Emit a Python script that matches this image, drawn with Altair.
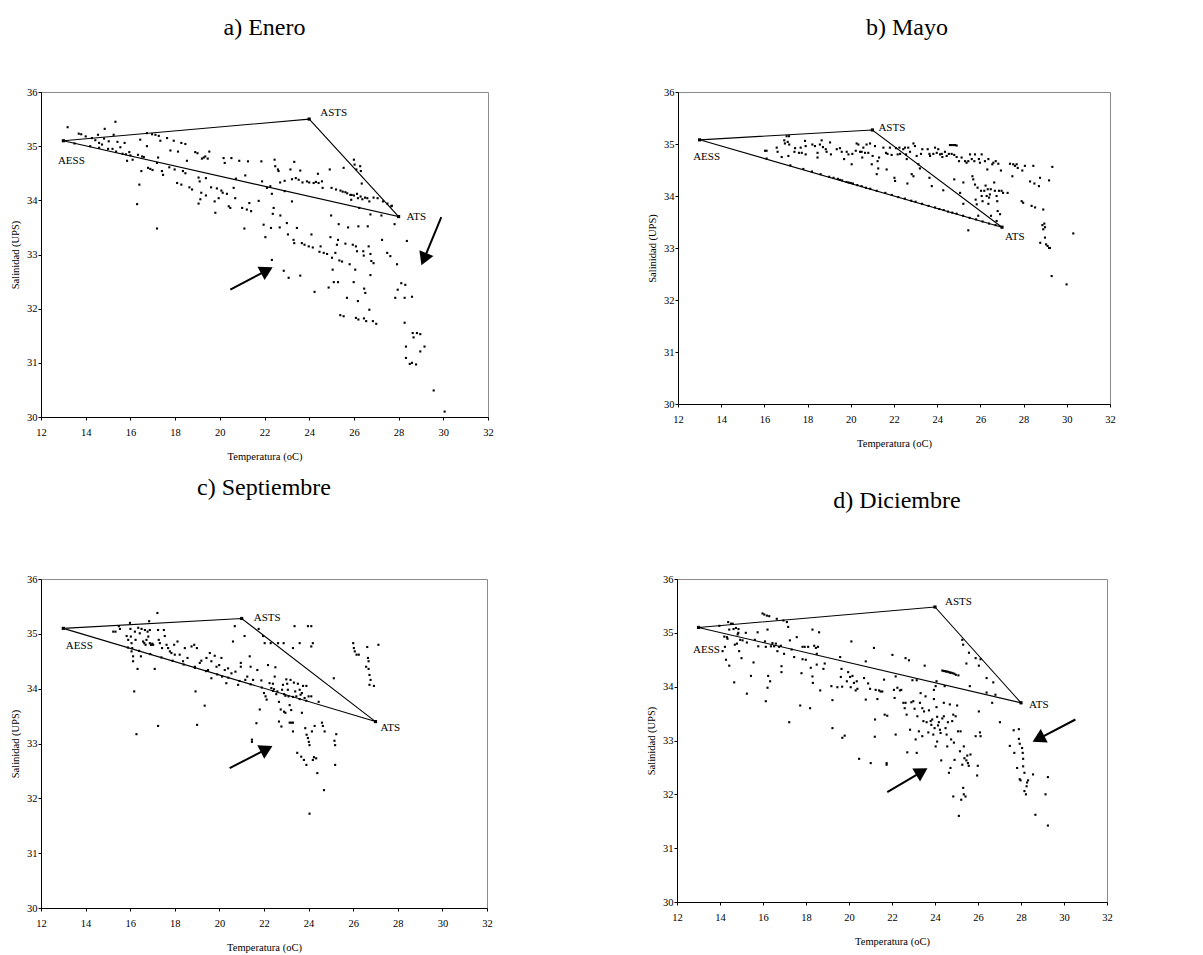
import math
import altair as alt
import pandas as pd

TEMP_TICKS = [12, 14, 16, 18, 20, 22, 24, 26, 28, 30, 32]
SAL_TICKS = [30, 31, 32, 33, 34, 35, 36]
VERTEX_NAMES = ["AESS", "ASTS", "ATS"]

# ---------------- a) Enero ----------------
ENERO_PTS = [
    (13.19, 35.35), (13.69, 35.23), (13.80, 35.22), (14.00, 35.18), (14.28, 35.15), (14.43, 35.11),
    (14.55, 35.21), (14.60, 35.06), (14.73, 35.03), (14.82, 35.14), (14.85, 35.32), (15.03, 35.09),
    (15.00, 34.95), (15.25, 35.21), (15.33, 35.45), (15.42, 35.08), (15.36, 34.90), (15.55, 34.98),
    (15.74, 35.06), (15.65, 34.86), (15.85, 34.73), (15.95, 34.89), (16.10, 34.75), (16.34, 34.84),
    (16.44, 35.12), (16.52, 34.81), (16.49, 34.54), (16.40, 34.29), (16.30, 33.93), (16.74, 35.24),
    (16.97, 35.22), (17.12, 35.21), (17.27, 35.19), (17.34, 35.10), (16.74, 35.00), (16.79, 34.60),
    (16.89, 34.58), (16.99, 34.56), (17.19, 34.69), (17.24, 34.79), (17.19, 33.48), (17.41, 34.54),
    (17.46, 34.47), (17.64, 35.15), (17.74, 34.61), (17.79, 34.92), (17.94, 35.10), (17.98, 34.57),
    (18.13, 34.90), (18.28, 35.06), (18.46, 35.04), (18.09, 34.32), (18.28, 34.29), (18.35, 34.54),
    (18.46, 34.50), (18.53, 34.73), (18.64, 34.24), (18.76, 34.20), (18.90, 34.89), (19.00, 34.87),
    (19.05, 34.42), (19.10, 34.35), (19.20, 34.77), (19.28, 34.79), (19.17, 34.14), (19.13, 34.02),
    (19.05, 33.94), (19.35, 34.81), (19.46, 34.77), (19.53, 34.90), (19.38, 34.41), (19.61, 34.24),
    (19.38, 34.09), (19.77, 33.98), (19.80, 33.77), (19.95, 34.04), (19.87, 34.22), (20.07, 34.18),
    (20.13, 34.14), (20.17, 34.78), (20.22, 34.69), (20.32, 34.12), (20.40, 33.89), (20.47, 33.86),
    (20.52, 34.78), (20.62, 34.23), (20.69, 34.04), (20.72, 34.40), (20.87, 34.73), (21.00, 33.86),
    (21.10, 33.48), (21.14, 34.46), (21.21, 33.83), (21.26, 34.72), (21.32, 33.95), (21.40, 33.80),
    (21.74, 33.99), (21.86, 34.72), (21.89, 34.35), (21.96, 33.55), (22.04, 33.32), (22.11, 34.23),
    (22.26, 34.26), (22.33, 34.12), (22.29, 33.49), (22.37, 33.75), (22.41, 33.86), (22.33, 32.90),
    (22.45, 34.75), (22.48, 34.63), (22.60, 34.57), (22.63, 34.54), (22.71, 33.72), (22.68, 33.50),
    (22.86, 32.70), (22.90, 34.17), (23.00, 33.58), (23.05, 33.37), (23.08, 32.57), (23.16, 34.57),
    (23.23, 34.39), (23.23, 33.98), (23.30, 33.27), (23.33, 33.21), (23.33, 34.71), (23.45, 33.49),
    (23.53, 34.38), (23.60, 34.55), (23.60, 32.61), (23.67, 33.21), (23.79, 33.18), (23.90, 34.35),
    (23.98, 33.15), (24.10, 33.37), (24.16, 33.13), (24.20, 34.32), (24.24, 32.31), (24.39, 34.49),
    (24.42, 34.32), (24.46, 33.05), (24.51, 33.15), (24.57, 34.35), (24.60, 34.23), (24.65, 33.03),
    (24.80, 33.01), (24.87, 32.39), (24.92, 34.57), (25.00, 34.23), (24.98, 33.72), (24.95, 33.32),
    (25.02, 32.94), (25.05, 32.72), (25.10, 32.49), (25.17, 33.03), (25.24, 33.18), (25.29, 33.27),
    (25.32, 33.56), (25.29, 32.49), (25.35, 32.89), (25.47, 32.87), (25.39, 31.88), (25.54, 31.86),
    (25.54, 34.60), (25.62, 34.15), (25.62, 33.20), (25.69, 32.20), (25.74, 33.50), (25.81, 32.82),
    (25.84, 34.10), (25.88, 34.01), (25.95, 33.18), (25.99, 32.49), (26.00, 34.75), (26.03, 34.66),
    (26.06, 32.72), (26.09, 33.15), (26.11, 34.57), (26.14, 33.06), (26.14, 34.12), (26.18, 34.04),
    (26.09, 31.83), (26.20, 31.80), (26.18, 32.14), (26.20, 33.52), (26.24, 33.86), (26.28, 34.63),
    (26.31, 34.54), (26.35, 34.31), (26.38, 34.02), (26.42, 33.06), (26.44, 32.98), (26.46, 32.37),
    (26.45, 31.82), (26.55, 31.77), (26.51, 32.29), (26.62, 33.52), (26.66, 33.15), (26.69, 31.98),
    (26.74, 33.01), (26.78, 32.88), (26.74, 33.74), (26.74, 32.62), (26.69, 33.98), (26.88, 34.05),
    (26.88, 32.84), (26.85, 31.77), (27.00, 31.72), (27.06, 34.04), (27.23, 33.72), (27.26, 33.27),
    (27.49, 33.03), (27.63, 32.97), (27.67, 33.89), (27.82, 33.56), (27.85, 32.20), (27.93, 32.82),
    (27.96, 32.35), (28.12, 32.47), (28.27, 31.74), (28.30, 32.44), (28.27, 32.20), (28.33, 31.30),
    (28.37, 33.25), (28.33, 31.09), (28.50, 30.98), (28.60, 32.22), (28.63, 31.55), (28.67, 31.47),
    (28.60, 31.00), (28.78, 30.97), (28.82, 31.55), (28.97, 31.21), (28.97, 31.53), (29.16, 31.30),
    (29.57, 30.49), (30.06, 30.10),
    (25.20, 34.20), (25.40, 34.18), (25.50, 34.16), (25.70, 34.13), (25.90, 34.10), (26.00, 34.09),
    (26.30, 34.07), (26.50, 34.05), (26.60, 34.04), (27.30, 33.98), (27.50, 33.94), (27.70, 33.90),
    (22.70, 34.33), (22.90, 34.36), (23.40, 34.41), (23.70, 34.33), (24.00, 34.33), (24.30, 34.34),
    (13.50, 35.05), (14.20, 35.00), (14.60, 34.97), (15.20, 34.95), (15.80, 34.85), (16.00, 34.83),
    (16.60, 34.80),
]
ENERO_TRI_T = [13, 24, 28]
ENERO_TRI_S = [35.1, 35.5, 33.7]
ENERO_ARROWS = [(20.47, 32.35, 22.02, 32.69), (29.91, 33.69, 29.17, 32.95)]

# ---------------- b) Mayo ----------------
MAYO_PTS = [
    (16.03, 34.87), (16.10, 34.87), (16.57, 34.93), (16.61, 34.85), (16.80, 34.75), (16.92, 35.07),
    (16.95, 35.01), (17.03, 35.15), (17.08, 35.04), (17.14, 35.15), (17.15, 34.99), (17.11, 34.77),
    (17.39, 34.85), (17.42, 34.92), (17.60, 34.83), (17.68, 34.93), (17.73, 34.83), (17.88, 35.06),
    (17.91, 34.96), (17.91, 34.80), (18.22, 34.99), (18.34, 34.96), (18.46, 34.83), (18.46, 34.74),
    (18.57, 34.99), (18.65, 35.07), (18.71, 34.94), (18.84, 34.90), (18.88, 34.85), (19.04, 35.03),
    (19.08, 34.80), (19.35, 34.90), (19.50, 34.92), (19.58, 34.85), (19.69, 34.71), (19.81, 34.85),
    (19.89, 34.80), (20.04, 34.61), (20.07, 34.81), (20.23, 34.87), (20.27, 35.01), (20.35, 34.99),
    (20.43, 34.85), (20.50, 34.85), (20.53, 34.74), (20.58, 34.93), (20.66, 34.83), (20.73, 34.99),
    (20.81, 34.83), (20.89, 35.01), (20.97, 34.61), (21.01, 34.77), (21.12, 34.96), (21.20, 34.42),
    (21.24, 34.67), (21.31, 34.74), (21.27, 34.53), (21.51, 34.93), (21.63, 34.83), (21.66, 34.51),
    (21.70, 34.81), (21.81, 34.93), (21.89, 34.79), (22.02, 34.35), (22.05, 34.29), (22.09, 34.92),
    (22.17, 34.80), (22.25, 34.93), (22.28, 34.81), (22.43, 34.90), (22.51, 34.93), (22.56, 34.80),
    (22.59, 34.71), (22.62, 34.24), (22.66, 34.93), (22.74, 34.85), (22.82, 34.42), (22.90, 34.38),
    (22.90, 35.01), (22.97, 34.96), (23.05, 34.77), (23.13, 34.61), (23.20, 34.53), (23.25, 34.81),
    (23.31, 34.90), (23.56, 34.90), (23.64, 34.81), (23.67, 34.77), (23.64, 34.35), (23.75, 34.19),
    (23.82, 34.81), (23.90, 34.93), (23.98, 34.83), (24.05, 34.90), (24.13, 34.80), (24.21, 34.81),
    (24.24, 34.75), (24.28, 34.11), (24.36, 34.85), (24.44, 34.77), (24.54, 34.81), (24.59, 34.98),
    (24.67, 34.98), (24.75, 34.98), (24.83, 34.98), (24.90, 34.97), (24.67, 34.81), (24.79, 34.79),
    (24.79, 34.32), (24.90, 34.75), (25.01, 34.67), (25.06, 34.06), (25.13, 34.74), (25.21, 34.26),
    (25.21, 33.85), (25.29, 34.67), (25.36, 34.64), (25.44, 34.67), (25.44, 33.34), (25.52, 34.80),
    (25.60, 34.71), (25.63, 34.38), (25.67, 34.32), (25.72, 34.67), (25.75, 34.80), (25.75, 34.22),
    (25.78, 33.93), (25.83, 33.84), (25.87, 34.16), (25.90, 33.62), (25.93, 34.71), (25.98, 34.64),
    (26.03, 34.10), (26.06, 34.80), (26.06, 34.00), (26.10, 33.90), (26.18, 34.10), (26.21, 34.67),
    (26.24, 34.20), (26.29, 34.00), (26.32, 34.51), (26.34, 34.13), (26.37, 34.71), (26.37, 33.85),
    (26.40, 33.97), (26.44, 34.03), (26.48, 34.13), (26.49, 33.62), (26.55, 34.61), (26.60, 34.64),
    (26.64, 34.26), (26.67, 34.10), (26.71, 34.67), (26.75, 34.00), (26.75, 33.52), (26.78, 33.90),
    (26.80, 33.71), (26.83, 34.62), (26.86, 34.10), (26.91, 33.65), (26.95, 34.49), (26.98, 34.10),
    (27.05, 34.06), (27.26, 34.06), (27.37, 34.62), (27.48, 34.38), (27.52, 34.61), (27.60, 34.58),
    (27.68, 34.61), (27.73, 34.54), (27.91, 33.90), (27.94, 34.49), (27.98, 33.87), (28.06, 34.58),
    (28.30, 34.28), (28.45, 34.58), (28.50, 34.24), (28.37, 33.81), (28.53, 33.78), (28.71, 34.19),
    (28.76, 34.35), (28.77, 33.10), (28.91, 33.74), (28.87, 33.44), (28.96, 33.47), (28.99, 33.40),
    (28.91, 33.36), (28.99, 33.20), (29.04, 33.07), (29.11, 33.04), (29.18, 33.00), (29.22, 33.00),
    (29.18, 34.30), (29.30, 32.46), (29.33, 34.56), (29.99, 32.30), (30.30, 33.28),
    (16.1, 34.72), (17.2, 34.59), (17.8, 34.52), (18.2, 34.47), (18.6, 34.42), (19.0, 34.37),
    (19.2, 34.35), (19.4, 34.33), (19.5, 34.31), (19.6, 34.30), (19.8, 34.27), (19.9, 34.26),
    (20.0, 34.25), (20.1, 34.24), (20.3, 34.21), (20.5, 34.19), (20.7, 34.16), (20.9, 34.14),
    (21.2, 34.10), (21.6, 34.06), (21.9, 34.02), (22.2, 33.98), (22.5, 33.95), (22.8, 33.91),
    (23.0, 33.89), (23.3, 33.85), (23.6, 33.81), (23.9, 33.78), (24.1, 33.75), (24.3, 33.73),
    (24.5, 33.70), (24.7, 33.68), (24.9, 33.66), (25.2, 33.62), (25.5, 33.58), (25.8, 33.55),
    (26.1, 33.51), (26.4, 33.47), (26.7, 33.44),
]
MAYO_TRI_T = [13, 21, 27]
MAYO_TRI_S = [35.08, 35.27, 33.4]
MAYO_ARROWS = []

# ---------------- c) Septiembre ----------------
SEPT_PTS = [
    (15.24, 35.04), (15.34, 35.04), (15.49, 35.14), (15.54, 35.09), (15.84, 34.96), (15.91, 34.89),
    (15.99, 35.20), (16.01, 35.09), (16.03, 34.95), (16.06, 34.83), (16.09, 34.74), (16.06, 34.68),
    (16.13, 34.59), (16.13, 34.50), (16.21, 35.04), (16.24, 34.89), (16.18, 33.95), (16.28, 33.17),
    (16.33, 34.36), (16.36, 35.11), (16.43, 35.01), (16.48, 34.59), (16.51, 35.09), (16.58, 34.86),
    (16.63, 34.83), (16.66, 35.07), (16.69, 34.80), (16.73, 34.89), (16.78, 35.04), (16.81, 34.95),
    (16.85, 35.23), (16.88, 34.83), (16.93, 34.80), (16.96, 34.80), (16.99, 34.82), (17.03, 34.80),
    (16.88, 35.07), (17.10, 34.36), (17.22, 35.38), (17.25, 33.32), (17.25, 35.07), (17.28, 34.89),
    (17.33, 34.83), (17.43, 34.74), (17.51, 35.07), (17.55, 34.96), (17.63, 34.80), (17.70, 34.74),
    (17.78, 34.68), (17.85, 34.65), (17.97, 34.80), (18.00, 34.62), (18.12, 34.86), (18.22, 34.62),
    (18.37, 34.50), (18.45, 34.74), (18.57, 34.56), (18.75, 34.77), (18.87, 34.80), (18.90, 34.40),
    (18.93, 33.95), (19.00, 33.34), (18.99, 34.74), (19.12, 34.47), (19.19, 34.51), (19.34, 33.69),
    (19.42, 34.56), (19.49, 34.34), (19.57, 34.65), (19.64, 34.19), (19.64, 34.50), (19.79, 34.60),
    (19.87, 34.40), (19.99, 34.43), (20.09, 34.56), (20.12, 34.22), (20.24, 34.34), (20.31, 34.10),
    (20.39, 34.37), (20.54, 34.28), (20.61, 34.86), (20.69, 35.14), (20.72, 34.31), (20.84, 34.07),
    (20.96, 34.47), (20.96, 34.40), (21.13, 34.96), (21.16, 34.16), (21.25, 34.22), (21.36, 34.59),
    (21.40, 34.40), (21.46, 33.07), (21.46, 33.03), (21.51, 34.16), (21.66, 33.37), (21.70, 34.34),
    (21.76, 35.09), (21.81, 33.62), (21.88, 34.15), (21.96, 34.96), (22.00, 33.92), (22.03, 34.83),
    (22.07, 33.86), (22.12, 33.80), (22.18, 34.43), (22.25, 34.10), (22.30, 34.83), (22.33, 34.01),
    (22.40, 34.09), (22.45, 33.99), (22.48, 34.22), (22.51, 34.39), (22.55, 33.90), (22.60, 33.95),
    (22.63, 34.83), (22.67, 33.76), (22.67, 33.40), (22.75, 33.62), (22.78, 33.31), (22.81, 33.98),
    (22.85, 34.07), (22.88, 34.83), (22.90, 33.58), (22.96, 33.56), (22.96, 33.87), (23.00, 34.17),
    (23.04, 34.09), (23.07, 33.98), (23.10, 33.86), (23.15, 33.70), (23.15, 33.38), (23.22, 33.38),
    (23.30, 33.38), (23.19, 34.16), (23.22, 33.61), (23.30, 33.22), (23.30, 34.74), (23.34, 34.11),
    (23.37, 35.14), (23.40, 33.95), (23.45, 33.86), (23.49, 32.83), (23.52, 34.09), (23.60, 34.83),
    (23.60, 33.98), (23.64, 33.89), (23.67, 32.76), (23.70, 33.56), (23.75, 34.05), (23.79, 32.70),
    (23.82, 33.83), (23.85, 33.28), (23.90, 32.61), (23.90, 34.05), (23.91, 33.16), (23.97, 33.10),
    (24.01, 33.03), (24.04, 32.97), (23.97, 35.14), (24.12, 35.14), (24.12, 33.86), (24.12, 34.77),
    (24.19, 34.83), (24.15, 33.22), (24.19, 32.70), (24.24, 32.75), (24.27, 33.32), (24.34, 32.73),
    (24.39, 32.46), (24.45, 33.76), (24.04, 31.72), (24.60, 33.38), (24.64, 33.32), (24.69, 32.15),
    (24.72, 33.22), (25.13, 34.19), (25.16, 33.05), (25.19, 32.97), (25.19, 32.61), (25.24, 33.17),
    (26.00, 34.83), (26.03, 34.74), (26.07, 34.68), (26.15, 34.62), (26.25, 34.62), (26.63, 34.76),
    (26.66, 34.56), (26.69, 34.50), (26.58, 34.40), (26.69, 34.36), (26.73, 34.25), (26.78, 34.16),
    (26.73, 34.07), (26.93, 34.05), (27.13, 34.80),
    (15.9, 34.75), (16.4, 34.69), (16.9, 34.63), (17.4, 34.57), (17.9, 34.51), (18.4, 34.44),
    (18.9, 34.38), (19.4, 34.32), (19.9, 34.26), (20.4, 34.20), (20.9, 34.14), (21.4, 34.08),
    (21.9, 34.02), (22.4, 33.96), (22.9, 33.90), (23.3, 33.85), (23.6, 33.81), (23.9, 33.78),
    (24.0, 33.86), (23.7, 33.92),
]
SEPT_TRI_T = [13, 21, 27]
SEPT_TRI_S = [35.1, 35.28, 33.4]
SEPT_ARROWS = [(20.46, 32.55, 22.03, 32.88)]

# ---------------- d) Diciembre ----------------
DIC_PTS = [
    (13.97, 35.13), (14.12, 34.66), (14.20, 34.93), (14.23, 34.74), (14.28, 34.50), (14.32, 34.92),
    (14.35, 34.89), (14.38, 35.20), (14.43, 34.39), (14.43, 35.06), (14.51, 35.17), (14.59, 35.17),
    (14.63, 35.07), (14.66, 34.08), (14.69, 34.78), (14.74, 35.09), (14.79, 34.80), (14.82, 34.97),
    (14.85, 35.00), (14.86, 35.07), (14.89, 34.66), (14.94, 34.87), (15.00, 34.53), (15.05, 34.86),
    (15.20, 35.00), (15.25, 34.82), (15.25, 33.87), (15.44, 34.20), (15.56, 34.45), (15.62, 34.87),
    (15.75, 35.01), (15.78, 34.75), (15.98, 35.36), (16.06, 35.34), (16.18, 35.32), (16.29, 35.31),
    (16.09, 34.84), (16.13, 34.74), (16.13, 33.73), (16.21, 35.06), (16.24, 34.20), (16.21, 33.98),
    (16.33, 34.10), (16.37, 34.75), (16.44, 34.81), (16.52, 34.75), (16.60, 34.80), (16.64, 35.26),
    (16.67, 34.66), (16.75, 34.74), (16.83, 34.76), (16.86, 34.38), (16.86, 34.27), (16.95, 35.23),
    (16.98, 34.61), (17.11, 35.20), (17.17, 35.11), (17.22, 33.34), (17.25, 34.86), (17.33, 34.69),
    (17.45, 34.55), (17.57, 34.92), (17.73, 33.65), (17.79, 34.25), (17.84, 34.74), (17.84, 34.51),
    (17.94, 34.74), (17.99, 34.50), (18.10, 34.74), (18.19, 33.60), (18.22, 34.35), (18.30, 35.06),
    (18.30, 34.19), (18.32, 34.07), (18.38, 34.76), (18.46, 34.72), (18.50, 34.61), (18.50, 34.41),
    (18.56, 34.74), (18.61, 35.01), (18.66, 33.93), (18.81, 34.33), (18.87, 34.43), (19.18, 34.01),
    (19.23, 33.75), (19.23, 33.23), (19.46, 33.99), (19.59, 34.55), (19.62, 34.18), (19.65, 34.33),
    (19.68, 34.00), (19.69, 33.05), (19.80, 33.09), (19.90, 34.10), (19.96, 34.27), (20.05, 34.18),
    (20.08, 33.99), (20.11, 34.84), (20.16, 34.20), (20.23, 34.07), (20.31, 33.93), (20.36, 34.10),
    (20.39, 33.96), (20.47, 32.66), (20.70, 34.16), (20.78, 34.47), (20.78, 33.76), (20.89, 34.06),
    (20.98, 33.96), (21.01, 32.58), (21.16, 34.72), (21.20, 33.07), (21.21, 33.39), (21.24, 33.94),
    (21.32, 33.77), (21.40, 33.93), (21.47, 33.91), (21.55, 33.91), (21.63, 34.13), (21.66, 33.48),
    (21.78, 33.46), (21.75, 32.58), (21.75, 32.55), (22.02, 34.59), (22.09, 33.94), (22.12, 33.79),
    (22.17, 34.19), (22.17, 33.11), (22.25, 33.98), (22.37, 33.93), (22.43, 33.94), (22.53, 33.70),
    (22.59, 33.60), (22.63, 34.53), (22.63, 33.70), (22.68, 33.48), (22.71, 32.78), (22.79, 34.49),
    (22.84, 33.20), (22.90, 33.71), (22.99, 33.73), (22.95, 34.12), (23.05, 33.59), (23.10, 33.02),
    (23.15, 32.77), (23.15, 34.12), (23.18, 33.45), (23.25, 33.17), (23.30, 33.70), (23.33, 33.88),
    (23.41, 33.60), (23.41, 33.08), (23.46, 33.36), (23.49, 33.54), (23.52, 34.39), (23.56, 33.82),
    (23.61, 33.34), (23.69, 33.15), (23.72, 33.56), (23.80, 33.36), (23.83, 33.29), (23.87, 33.39),
    (23.92, 33.11), (23.95, 33.94), (23.95, 33.77), (23.98, 33.23), (24.03, 32.89), (24.03, 34.01),
    (24.07, 34.10), (24.07, 33.62), (24.10, 33.44), (24.10, 32.98), (24.14, 33.28), (24.18, 33.34),
    (24.23, 33.20), (24.26, 33.14), (24.29, 32.63), (24.34, 33.41), (24.34, 34.30), (24.40, 34.29),
    (24.46, 34.29), (24.52, 34.28), (24.58, 34.28), (24.64, 34.27), (24.70, 34.26), (24.76, 34.26),
    (24.82, 34.25), (24.90, 34.24), (24.97, 34.22), (25.09, 34.21), (24.41, 33.70), (24.45, 34.01),
    (24.41, 33.45), (24.49, 33.23), (24.54, 33.11), (24.57, 32.89), (24.60, 33.34), (24.65, 32.40),
    (24.69, 33.67), (24.72, 32.49), (24.75, 33.02), (24.80, 33.36), (24.85, 33.48), (24.85, 31.96),
    (24.88, 32.96), (24.91, 32.64), (24.96, 33.45), (25.03, 33.65), (25.07, 33.17), (25.11, 31.60),
    (25.16, 32.80), (25.19, 33.17), (25.22, 31.90), (25.27, 32.55), (25.31, 32.12), (25.34, 32.00),
    (25.34, 32.89), (25.37, 32.67), (25.42, 31.96), (25.46, 32.63), (25.50, 32.72), (25.53, 32.58),
    (25.57, 32.53), (25.62, 34.01), (25.65, 32.74), (25.89, 33.08), (25.96, 32.35), (25.99, 32.53),
    (26.04, 33.54), (26.09, 33.15), (26.12, 33.08), (26.04, 34.39), (26.12, 34.51), (25.89, 34.53),
    (25.58, 34.63), (25.46, 34.43), (25.31, 34.78), (25.27, 34.87), (26.40, 34.16), (26.40, 33.89),
    (26.71, 34.08), (26.66, 33.70), (26.81, 33.85), (27.02, 33.34), (27.48, 32.90), (27.66, 33.19),
    (27.69, 32.77), (27.82, 32.49), (27.90, 33.21), (27.90, 33.03), (27.94, 32.94), (27.94, 32.28),
    (27.98, 32.26), (28.05, 32.86), (28.08, 32.77), (28.10, 32.66), (28.10, 32.52), (28.16, 32.40),
    (28.16, 32.06), (28.23, 32.00), (28.26, 32.15), (28.28, 32.22), (28.33, 32.26), (28.56, 32.37),
    (28.67, 31.62), (29.14, 32.00), (29.25, 32.32), (29.25, 31.42),
]
DIC_TRI_T = [13, 24, 28]
DIC_TRI_S = [35.1, 35.48, 33.7]
DIC_ARROWS = [(21.78, 32.04, 23.30, 32.40), (30.53, 33.39, 28.90, 33.05)]

SERIF = "Liberation Serif"
T_DOMAIN = [12, 32]
S_DOMAIN = [30, 36]


def xch(field):
    return alt.X(
        field, type="quantitative",
        scale=alt.Scale(domain=T_DOMAIN, nice=False, zero=False),
        axis=alt.Axis(values=TEMP_TICKS, title="Temperatura (oC)", grid=False, format="d",
                      tickSize=3, labelPadding=7, titlePadding=14, labelFlush=False,
                      labelOverlap=False))


def ych(field, ypad):
    return alt.Y(
        field, type="quantitative",
        scale=alt.Scale(domain=S_DOMAIN, nice=False, zero=False),
        axis=alt.Axis(values=SAL_TICKS, title="Salinidad (UPS)", grid=False, format="d",
                      tickSize=3, labelPadding=1, titlePadding=ypad, labelFlush=False,
                      labelOverlap=False))


def panel(title, pts, tri_t, tri_s, arrows, W, H, toff, tdx, lbl, ypad):
    X = xch("T")
    Y = ych("S", ypad)
    layers = []
    tri_df = pd.DataFrame({"T": tri_t + [tri_t[0]], "S": tri_s + [tri_s[0]], "o": [0, 1, 2, 3]})
    layers.append(alt.Chart(tri_df).mark_line(color="black", strokeWidth=1.1).encode(
        x=X, y=Y, order="o:Q"))
    vdf = pd.DataFrame({"T": tri_t, "S": tri_s, "name": VERTEX_NAMES})
    layers.append(alt.Chart(vdf).mark_square(size=10, color="black", opacity=1).encode(x=X, y=Y))
    layers.append(alt.Chart(pd.DataFrame(pts, columns=["T", "S"])).mark_square(
        size=4.5, color="black", opacity=1).encode(x=X, y=Y))
    for i, name in enumerate(VERTEX_NAMES):
        align, dx, dy = lbl[name]
        layers.append(alt.Chart(vdf.iloc[[i]]).mark_text(
            font=SERIF, fontSize=11, color="black", align=align, baseline="middle", dx=dx, dy=dy
        ).encode(x=X, y=Y, text="name:N"))
    if arrows:
        rows = []
        for t1, s1, t2, s2 in arrows:
            dxp = (t2 - t1) / (T_DOMAIN[1] - T_DOMAIN[0]) * W
            dyp = (s2 - s1) / (S_DOMAIN[1] - S_DOMAIN[0]) * H
            ang = (math.degrees(math.atan2(dxp, dyp)) + 360) % 360
            rows.append({"T": t1, "S": s1, "T2": t2, "S2": s2, "ang": ang})
        adf = pd.DataFrame(rows)
        layers.append(alt.Chart(adf).mark_rule(color="black", strokeWidth=2).encode(
            x=X, y=Y, x2=alt.X2("T2:Q"), y2=alt.Y2("S2:Q")))
        layers.append(alt.Chart(adf).mark_point(shape="triangle", filled=True, size=230,
                                                color="black", opacity=1).encode(
            x=xch("T2"), y=ych("S2", ypad), angle=alt.Angle("ang:Q", scale=None)))
    tp = dict(text=title, font=SERIF, fontSize=24, fontWeight="normal", color="black",
              anchor="middle", frame="group", baseline="bottom", offset=toff, dx=tdx)
    return alt.layer(*layers).properties(width=W, height=H, title=alt.TitleParams(**tp))


a = panel("a) Enero", ENERO_PTS, ENERO_TRI_T, ENERO_TRI_S, ENERO_ARROWS, 447, 325, 23, 0,
          {"AESS": ("center", 8, 20), "ASTS": ("left", 11, -6), "ATS": ("left", 8, 0)}, 6)
b = panel("b) Mayo", MAYO_PTS, MAYO_TRI_T, MAYO_TRI_S, MAYO_ARROWS, 432, 312, 23, 13,
          {"AESS": ("center", 7, 17), "ASTS": ("left", 6, -2), "ATS": ("left", 3, 10)}, 6)
c = panel("c) Septiembre", SEPT_PTS, SEPT_TRI_T, SEPT_TRI_S, SEPT_ARROWS, 446, 329, 50, 0,
          {"AESS": ("center", 16, 18), "ASTS": ("left", 12, 0), "ATS": ("left", 5, 6)}, 6)
d = panel("d) Diciembre", DIC_PTS, DIC_TRI_T, DIC_TRI_S, DIC_ARROWS, 430, 323, 37, 5,
          {"AESS": ("center", 8, 23), "ASTS": ("left", 10, -5), "ATS": ("left", 8, 2)}, 6)

row1 = alt.hconcat(a, b, spacing=153)
row2 = alt.hconcat(c, d, spacing=153)
chart = alt.vconcat(row1, row2, spacing=12).properties(
    padding={"left": 2, "top": 7, "right": 5, "bottom": 5}
).configure_view(stroke="#8c8c8c", strokeWidth=1).configure_axis(
    domainColor="black", tickColor="black", labelColor="black", titleColor="black",
    labelFont=SERIF, titleFont=SERIF, labelFontSize=10.5, titleFontSize=10.5,
    titleFontWeight="normal", domainWidth=1, tickWidth=1
)

chart.save("out.html", embed_options={"renderer": "svg", "actions": False})
